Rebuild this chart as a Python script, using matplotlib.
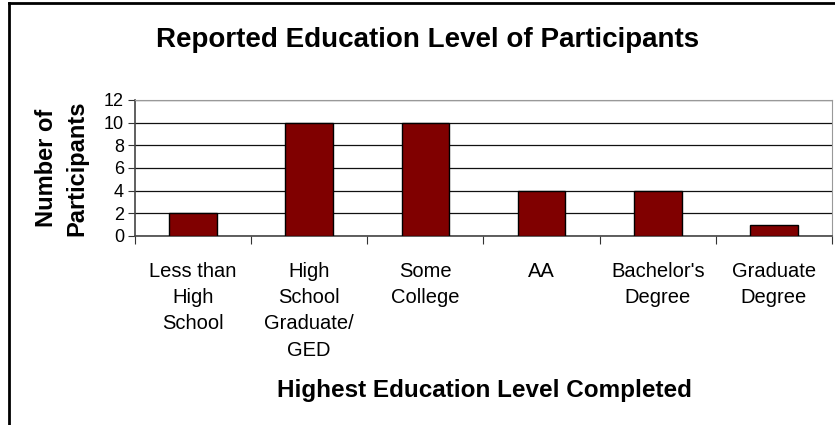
import matplotlib.pyplot as plt
import numpy as np
from matplotlib.lines import Line2D

categories = ["Less than\nHigh\nSchool", "High\nSchool\nGraduate/\nGED", "Some\nCollege",
              "AA", "Bachelor's\nDegree", "Graduate\nDegree"]
counts = [2, 10, 10, 4, 4, 1]
y_ticks = [0, 2, 4, 6, 8, 10, 12]

plt.rcParams['font.family'] = ['Liberation Sans', 'DejaVu Sans']

W, H = 835, 425
fig = plt.figure(figsize=(W / 100, H / 100), dpi=100)
ax = fig.add_axes([135 / W, 1 - 236 / H, 697 / W, 136 / H])

x = np.arange(len(categories))
ax.bar(x, counts, width=0.41, color='#800000', edgecolor='black', linewidth=1, zorder=3)

ax.set_xlim(-0.5, len(categories) - 0.5)
ax.set_ylim(0, 12)
ax.set_yticks(y_ticks)
ax.set_yticklabels([str(v) for v in y_ticks], fontsize=13)
ax.yaxis.grid(True, color='#111111', linewidth=0.9, zorder=0)

# ticks on category boundaries, labels at centres
ax.set_xticks(np.arange(len(categories) + 1) - 0.5)
ax.set_xticklabels([])
ax.set_xticks(x, minor=True)
ax.set_xticklabels(categories, minor=True, fontsize=14.5, linespacing=1.47, va='top')
ax.tick_params(axis='x', which='minor', length=0, pad=19)
ax.tick_params(axis='x', which='major', length=6, color='#333333', direction='out')
ax.tick_params(axis='y', length=5, color='#333333', pad=3)

for s in ['top', 'right']:
    ax.spines[s].set_color('#999999')
for s in ['left', 'bottom']:
    ax.spines[s].set_color('#444444')
    ax.spines[s].set_linewidth(1.2)

fig.text(484 / W, 1 - 397 / H, 'Highest Education Level Completed',
         fontsize=17.5, fontweight='bold', ha='center', va='baseline')
fig.text(62 / W, 1 - 168 / H, 'Number of\nParticipants', rotation=90,
         fontsize=17, fontweight='bold', ha='center', va='center',
         multialignment='center', linespacing=1.4)
fig.text(428 / W, 1 - 47 / H, 'Reported Education Level of Participants',
         fontsize=20, fontweight='bold', ha='center', va='baseline')

# outer chart frame (cropped on right and bottom)
fig.add_artist(Line2D([9 / W, 9 / W], [0, 1 - 3 / H], color='black', linewidth=2))
fig.add_artist(Line2D([9 / W, 1], [1 - 3 / H, 1 - 3 / H], color='black', linewidth=2))

fig.savefig('out.png', dpi=100, facecolor='white')
